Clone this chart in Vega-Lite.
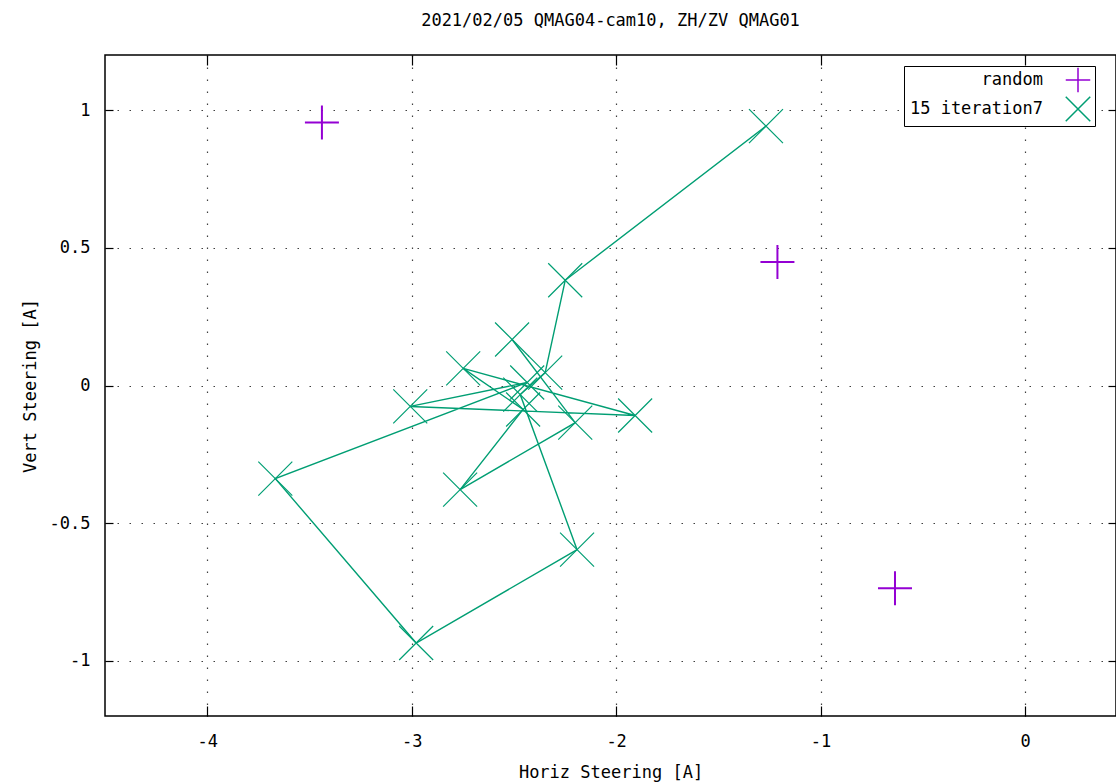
{
  "$schema": "https://vega.github.io/schema/vega-lite/v6.json",
  "width": 1011,
  "height": 661,
  "autosize": "none",
  "padding": {"left": 105, "top": 55, "right": 0, "bottom": 67},
  "background": "white",
  "title": {
    "text": "2021/02/05 QMAG04-cam10, ZH/ZV QMAG01",
    "font": "DejaVu Sans Mono",
    "fontSize": 17,
    "fontWeight": "normal",
    "color": "black",
    "offset": 24,
    "anchor": "middle"
  },
  "config": {
    "view": {"stroke": "black", "strokeWidth": 1.5},
    "axis": {
      "labelFont": "DejaVu Sans Mono",
      "labelFontSize": 17,
      "labelColor": "black",
      "titleFont": "DejaVu Sans Mono",
      "titleFontSize": 17,
      "titleFontWeight": "normal",
      "titleColor": "black",
      "tickColor": "black",
      "tickWidth": 1.2,
      "domain": false,
      "gridColor": "black",
      "gridOpacity": 0.75,
      "gridDash": [1.5, 10.5],
      "gridWidth": 1.2
    },
    "legend": {
      "orient": "none",
      "legendX": 799,
      "legendY": 11,
      "labelFont": "DejaVu Sans Mono",
      "labelFontSize": 17,
      "labelColor": "black",
      "strokeColor": "black",
      "fillColor": "white",
      "padding": 1,
      "symbolSize": 600,
      "symbolStrokeWidth": 1.5,
      "rowPadding": -10,
      "labelAlign": "right",
      "labelOffset": -48,
      "symbolOffset": 160
    }
  },
  "data": {
    "values": [
      {"series": "random", "x": -3.439, "y": 0.955, "step": 1},
      {"series": "random", "x": -1.211, "y": 0.448, "step": 2},
      {"series": "random", "x": -0.636, "y": -0.736, "step": 3},
      {"series": "15 iteration7", "x": -2.509, "y": 0.167, "step": 1},
      {"series": "15 iteration7", "x": -2.200, "y": -0.135, "step": 2},
      {"series": "15 iteration7", "x": -2.763, "y": -0.378, "step": 3},
      {"series": "15 iteration7", "x": -2.455, "y": -0.087, "step": 4},
      {"series": "15 iteration7", "x": -2.748, "y": 0.062, "step": 5},
      {"series": "15 iteration7", "x": -1.907, "y": -0.109, "step": 6},
      {"series": "15 iteration7", "x": -3.007, "y": -0.076, "step": 7},
      {"series": "15 iteration7", "x": -2.435, "y": 0.011, "step": 8},
      {"series": "15 iteration7", "x": -3.667, "y": -0.338, "step": 9},
      {"series": "15 iteration7", "x": -2.978, "y": -0.935, "step": 10},
      {"series": "15 iteration7", "x": -2.191, "y": -0.596, "step": 11},
      {"series": "15 iteration7", "x": -2.469, "y": -0.033, "step": 12},
      {"series": "15 iteration7", "x": -2.347, "y": 0.047, "step": 13},
      {"series": "15 iteration7", "x": -2.249, "y": 0.382, "step": 14},
      {"series": "15 iteration7", "x": -1.267, "y": 0.942, "step": 15}
    ]
  },
  "layer": [
    {
      "transform": [{"filter": "datum.series === '15 iteration7'"}],
      "mark": {"type": "line", "color": "#009e73", "strokeWidth": 1.4},
      "encoding": {
        "x": {
          "field": "x", "type": "quantitative",
          "scale": {"domain": [-4.5, 0.445], "nice": false, "zero": false},
          "axis": {
            "orient": "bottom", "values": [-4, -3, -2, -1, 0],
            "labelExpr": "toString(datum.value)",
            "grid": true, "offset": -10, "tickSize": 10, "labelPadding": 17,
            "title": "Horiz Steering [A]", "titlePadding": 15
          }
        },
        "y": {
          "field": "y", "type": "quantitative",
          "scale": {"domain": [-1.2, 1.2], "nice": false, "zero": false},
          "axis": {
            "orient": "left", "values": [-1, -0.5, 0, 0.5, 1],
            "labelExpr": "toString(datum.value)",
            "grid": true, "offset": -8, "tickSize": 8, "labelPadding": 15,
            "title": "Vert Steering [A]", "titlePadding": 10
          }
        },
        "order": {"field": "step", "type": "quantitative"}
      }
    },
    {
      "transform": [{"filter": "datum.series === 'random'"}],
      "mark": {"type": "point", "filled": false, "strokeWidth": 2, "size": 1156, "opacity": 1},
      "encoding": {
        "x": {
          "field": "x", "type": "quantitative",
          "axis": {"orient": "top", "values": [-4, -3, -2, -1, 0], "labels": false, "grid": false, "offset": -10, "tickSize": 10, "title": null}
        },
        "y": {
          "field": "y", "type": "quantitative",
          "axis": {"orient": "right", "values": [-1, -0.5, 0, 0.5, 1], "labels": false, "grid": false, "offset": -8, "tickSize": 8, "title": null}
        },
        "color": {
          "field": "series", "type": "nominal",
          "scale": {"domain": ["random", "15 iteration7"], "range": ["#9400d3", "#009e73"]},
          "legend": {"title": null}
        },
        "shape": {
          "field": "series", "type": "nominal",
          "scale": {"domain": ["random", "15 iteration7"], "range": ["M-1,0L1,0M0,-1L0,1", "M-1,-1L1,1M-1,1L1,-1"]},
          "legend": {"title": null}
        }
      }
    },
    {
      "transform": [{"filter": "datum.series === '15 iteration7'"}],
      "mark": {"type": "point", "filled": false, "strokeWidth": 1.2, "size": 1156, "opacity": 1},
      "encoding": {
        "x": {"field": "x", "type": "quantitative", "axis": null},
        "y": {"field": "y", "type": "quantitative", "axis": null},
        "color": {"field": "series", "type": "nominal", "legend": {"title": null}},
        "shape": {"field": "series", "type": "nominal", "legend": {"title": null}}
      }
    }
  ],
  "resolve": {"axis": {"x": "independent", "y": "independent"}}
}
